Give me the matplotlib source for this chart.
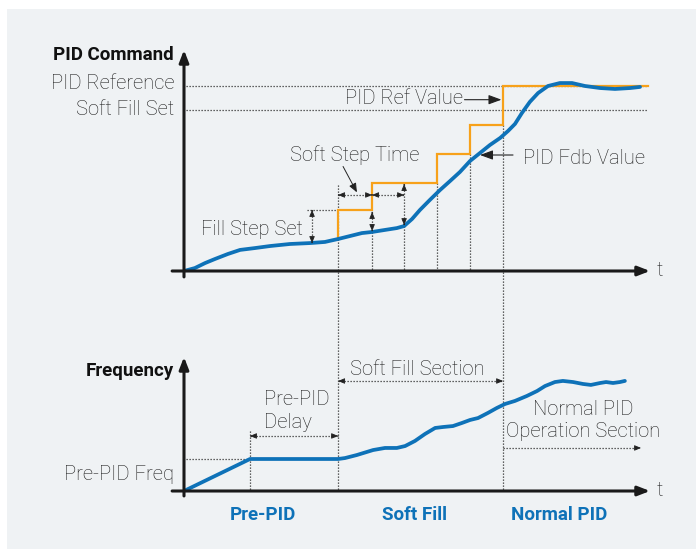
import matplotlib
matplotlib.use("Agg")
import matplotlib.pyplot as plt
from matplotlib.patches import Rectangle

plt.rcParams['font.family'] = ['Roboto', 'Liberation Sans', 'DejaVu Sans']

# ---------------- data (time units, command %, frequency Hz) ----------------
fdb_t = [0.0, 0.33, 0.64, 0.94, 1.33, 1.70, 2.15, 2.61, 3.21, 3.82, 4.27, 4.67, 5.03, 5.39,
         5.70, 6.09, 6.45, 6.67, 6.91, 7.15, 7.45, 7.76, 8.06, 8.36, 8.67, 8.97, 9.27, 9.58,
         9.82, 10.03, 10.24, 10.48, 10.73, 11.03, 11.39, 11.76, 12.15, 12.61, 13.06, 13.52, 13.82]
fdb_v = [0.0, 1.6, 4.3, 6.5, 9.2, 11.4, 12.4, 13.5, 14.6, 15.1, 15.7, 17.3, 18.9, 20.5,
         21.1, 22.2, 23.2, 24.3, 28.1, 33.0, 38.4, 43.8, 48.6, 53.5, 59.5, 63.8, 68.1, 71.9,
         75.7, 79.5, 85.4, 91.4, 96.2, 100.0, 101.6, 101.6, 100.0, 98.9, 98.4, 98.9, 99.5]

step_t = [4.67, 5.70, 7.67, 8.67, 9.67]          # soft step instants
step_v = [33.0, 47.6, 63.2, 78.9, 100.0]        # reference level after each step
ref_end_t = 14.06
pid_reference = 100.0
soft_fill_set = 87.0
marker_t = [4.67, 5.70, 6.67, 7.67, 8.67, 9.67]  # dotted time markers

freq_t = [0.0, 2.0, 4.67, 4.88, 5.24, 5.73, 6.09, 6.45, 6.70, 7.00, 7.30, 7.61, 7.85, 8.15,
          8.42, 8.67, 8.91, 9.21, 9.48, 9.73, 10.03, 10.39, 10.70, 10.94, 11.24, 11.48, 11.79,
          12.09, 12.33, 12.61, 12.79, 13.0, 13.21, 13.36]
freq_v = [0.0, 20.0, 20.0, 20.6, 22.5, 25.6, 26.9, 26.9, 28.1, 31.3, 35.6, 39.4, 40.0, 40.6,
          42.5, 44.4, 45.6, 48.8, 51.9, 54.4, 56.3, 59.4, 62.5, 65.6, 68.1, 68.8, 68.1,
          66.9, 66.3, 67.5, 68.1, 67.5, 68.1, 68.8]
pre_pid_freq = 20.0
pre_pid_end = 2.0
soft_fill_start = 4.67
normal_start = 9.67

section_labels = ["Pre-PID", "Soft Fill", "Normal PID"]
section_pos = [2.39, 7.0, 11.36]

# ---------------- layout ----------------
W, H = 696, 549
fig = plt.figure(figsize=(W / 100, H / 100), dpi=100)
fig.patch.set_facecolor('white')
fig.patches.append(Rectangle((7 / W, 0), 1, 1 - 9 / H, transform=fig.transFigure,
                             facecolor='#eff2f4', edgecolor='none', zorder=-10))

x0, x1 = 184, 650
T1 = (x1 - x0) / 33.0
ax_top = fig.add_axes([x0 / W, (H - 271) / H, (x1 - x0) / W, (271 - 50) / H])
ax_bot = fig.add_axes([x0 / W, (H - 491) / H, (x1 - x0) / W, (491 - 357) / H])
ax_top.set_xlim(0, T1); ax_top.set_ylim(0, (271 - 50) / 1.85)
ax_bot.set_xlim(0, T1); ax_bot.set_ylim(0, (491 - 357) / 1.6)
for a in (ax_top, ax_bot):
    a.axis('off')
    a.patch.set_alpha(0)

BLUE = '#0e72b8'
ORANGE = '#f7a11a'
TXT = '#1c1c1c'
DOT = dict(color='#333333', lw=0.9, ls=(0, (1, 1.4)), clip_on=False, zorder=2)
FS = 14.5
FSB = 13.5
LW = 'light'


def head(ax, x, y, dx, dy, ms=6.5):
    ax.annotate('', xy=(x, y), xytext=(x - dx, y - dy),
                arrowprops=dict(arrowstyle='-|>,head_length=0.6,head_width=0.25',
                                color='#222222', lw=0.6, shrinkA=0, shrinkB=0,
                                mutation_scale=ms),
                annotation_clip=False, zorder=4)


def darrow_h(ax, xa, xb, y):
    ax.plot([xa, xb], [y, y], **DOT)
    e = (xb - xa) * 0.02
    head(ax, xa, y, -e, 0)
    head(ax, xb, y, e, 0)


def darrow_v(ax, x, ya, yb):
    ax.plot([x, x], [ya, yb], **DOT)
    e = (yb - ya) * 0.02
    head(ax, x, ya, 0, -e)
    head(ax, x, yb, 0, e)


def label(ax, x, y, s, **kw):
    ax.text(x, y, s, fontsize=FS, color=TXT, fontweight=LW, **kw)


def axis_arrows(ax, ytop, ybot):
    ap = dict(arrowstyle='-|>,head_length=0.9,head_width=0.35', color='#1a1a1a',
              lw=2.2, shrinkA=0, shrinkB=0, mutation_scale=8)
    ax.annotate('', xy=(T1, 0), xytext=(-0.36, 0), arrowprops=ap,
                annotation_clip=False, zorder=5)
    ax.annotate('', xy=(0, ytop), xytext=(0, ybot), arrowprops=ap,
                annotation_clip=False, zorder=5)
    label(ax, T1 + 0.2, 0, 't', va='center', ha='left')


# ---------------- top panel ----------------
axis_arrows(ax_top, ax_top.get_ylim()[1], -3.2)
ax_top.text(-0.30, 116.7, 'PID Command', fontsize=FSB, fontweight='bold', color='#111111',
            ha='right', va='center')
label(ax_top, -0.30, 101.5, 'PID Reference', ha='right', va='center')
label(ax_top, -0.30, 87.2, 'Soft Fill Set', ha='right', va='center')
ax_top.plot([0.06, ref_end_t], [pid_reference, pid_reference], **DOT)
ax_top.plot([0.06, ref_end_t], [soft_fill_set, soft_fill_set], **DOT)

# orange reference steps
sx, sy = [step_t[0]], [17.8]
for i, t in enumerate(step_t):
    sx += [t, step_t[i + 1] if i + 1 < len(step_t) else ref_end_t]
    sy += [step_v[i], step_v[i]]
ax_top.plot(sx, sy, color=ORANGE, lw=1.6, zorder=3, solid_joinstyle='miter')

# feedback curve
ax_top.plot(fdb_t, fdb_v, color=BLUE, lw=2.7, zorder=4, solid_capstyle='round',
            solid_joinstyle='round')

# dotted markers
bottom_in_top = ax_top.transData.inverted().transform(ax_bot.transData.transform((0, 0)))[1]
ax_top.plot([marker_t[0]] * 2, [46.5, bottom_in_top], **DOT)
ax_top.plot([marker_t[1]] * 2, [21.1, 0], **DOT)
ax_top.plot([marker_t[2]] * 2, [24.3, 0], **DOT)
ax_top.plot([marker_t[3]] * 2, [step_v[1], 0], **DOT)
ax_top.plot([marker_t[4]] * 2, [step_v[2], 0], **DOT)
ax_top.plot([marker_t[5]] * 2, [step_v[3], bottom_in_top], **DOT)

# fill step set
ax_top.plot([3.73, step_t[0]], [step_v[0], step_v[0]], **DOT)
darrow_v(ax_top, 3.88, step_v[0], 15.1)
label(ax_top, 3.61, 22.7, 'Fill Step Set', ha='right', va='center')

# soft step time
darrow_v(ax_top, marker_t[1], 31.9, 21.6)
darrow_v(ax_top, marker_t[2], 47.0, 24.8)
darrow_h(ax_top, marker_t[0], marker_t[1], 41.1)
darrow_h(ax_top, marker_t[1], marker_t[2], 41.1)
label(ax_top, 5.18, 62.8, 'Soft Step Time', ha='center', va='center')
ax_top.annotate('', xy=(5.24, 42.5), xytext=(4.82, 56.5),
                arrowprops=dict(arrowstyle='-|>,head_length=0.6,head_width=0.25', color='#222222',
                                lw=0.7, shrinkA=0, shrinkB=0, mutation_scale=9),
                annotation_clip=False, zorder=4)

# PID Ref Value / PID Fdb Value
label(ax_top, 8.45, 93.2, 'PID Ref Value', ha='right', va='center')
ax_top.annotate('', xy=(9.62, 92.6), xytext=(8.5, 92.6),
                arrowprops=dict(arrowstyle='-|>,head_length=0.6,head_width=0.22', color='#222222',
                                lw=0.8, shrinkA=0, shrinkB=0, mutation_scale=13),
                annotation_clip=False, zorder=4)
label(ax_top, 10.27, 60.8, 'PID Fdb Value', ha='left', va='center')
ax_top.annotate('', xy=(8.97, 62.7), xytext=(9.97, 62.7),
                arrowprops=dict(arrowstyle='-|>,head_length=0.6,head_width=0.22', color='#222222',
                                lw=0.8, shrinkA=0, shrinkB=0, mutation_scale=13),
                annotation_clip=False, zorder=5)

# ---------------- bottom panel ----------------
axis_arrows(ax_bot, ax_bot.get_ylim()[1], -3.1)
ax_bot.text(-0.30, 75.0, 'Frequency', fontsize=FSB, fontweight='bold', color='#111111',
            ha='right', va='center')
label(ax_bot, -0.30, 10.2, 'Pre-PID Freq', ha='right', va='center')
ax_bot.plot([0.06, pre_pid_end], [pre_pid_freq, pre_pid_freq], **DOT)
ax_bot.plot([pre_pid_end] * 2, [37.5, 0], **DOT)
ax_bot.plot(freq_t, freq_v, color=BLUE, lw=2.7, zorder=4, solid_capstyle='round',
            solid_joinstyle='round')

darrow_h(ax_bot, pre_pid_end, soft_fill_start, 34.4)
label(ax_bot, 2.42, 50.0, 'Pre-PID\nDelay', ha='left', va='center', linespacing=1.25)
darrow_h(ax_bot, soft_fill_start, normal_start, 68.75)
label(ax_bot, 7.06, 75.8, 'Soft Fill Section', ha='center', va='center')
ax_bot.plot([normal_start, 13.75], [26.9, 26.9], **DOT)
head(ax_bot, 13.85, 26.9, 0.1, 0)
label(ax_bot, 12.09, 44.0, 'Normal PID\nOperation Section', ha='center', va='center',
      linespacing=1.25)

for lab, p in zip(section_labels, section_pos):
    ax_bot.text(p, -15.0, lab, fontsize=FSB, fontweight='bold', color=BLUE, ha='center',
                va='center')

fig.savefig('out.png', dpi=100, facecolor=fig.get_facecolor())
